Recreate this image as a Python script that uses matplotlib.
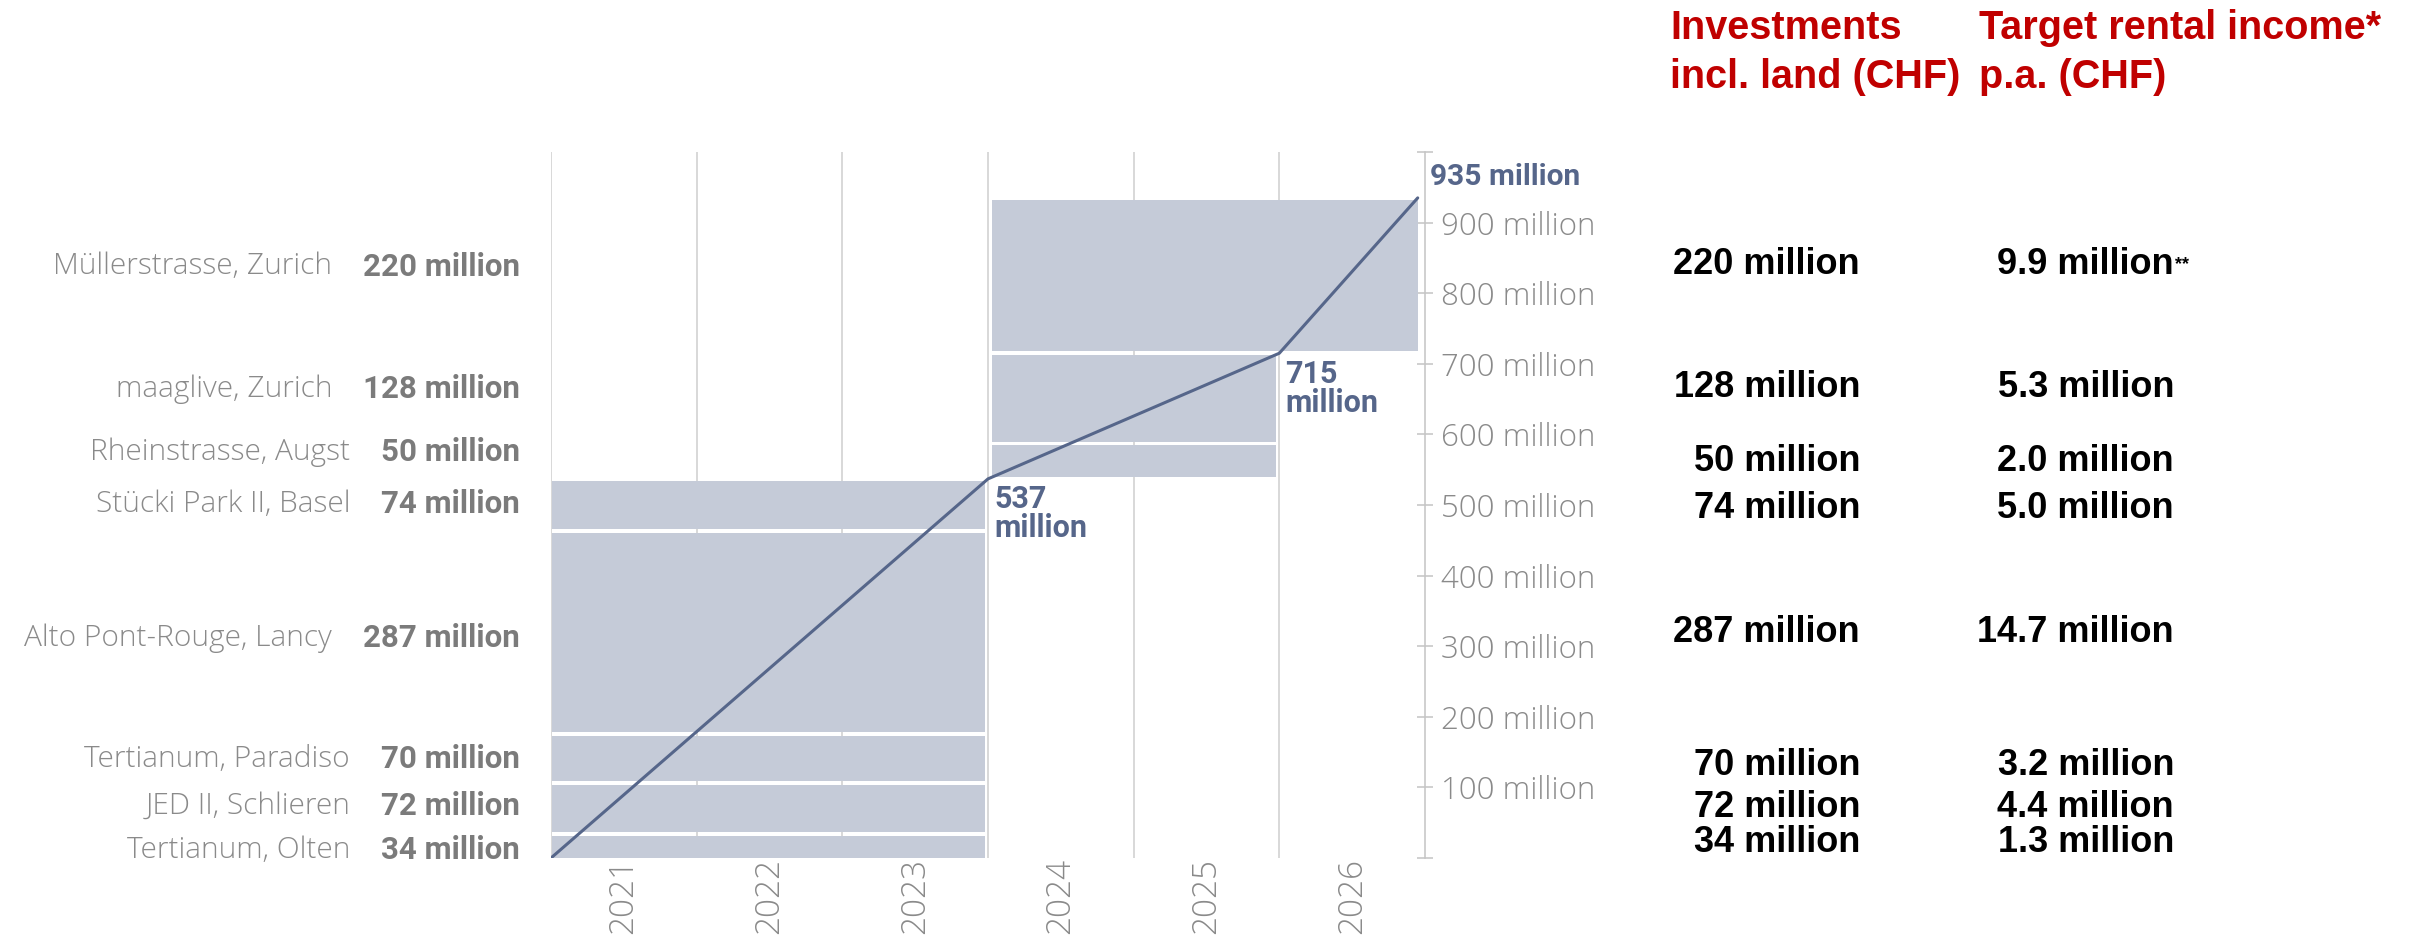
import matplotlib.pyplot as plt
import numpy as np
from matplotlib.transforms import blended_transform_factory

# projects, bottom of the stack first
projects = [
    "Tertianum, Olten",
    "JED II, Schlieren",
    "Tertianum, Paradiso",
    "Alto Pont-Rouge, Lancy",
    "Stücki Park II, Basel",
    "Rheinstrasse, Augst",
    "maaglive, Zurich",
    "Müllerstrasse, Zurich",
]
invest = [34, 72, 70, 287, 74, 50, 128, 220]          # CHF million, incl. land
rent = [1.3, 4.4, 3.2, 14.7, 5.0, 2.0, 5.3, 9.9]      # target rental income p.a., CHF million
rent_note = ["", "", "", "", "", "", "", "**"]
start_year = [2021, 2021, 2021, 2021, 2021, 2024, 2024, 2024]
end_year = [2023, 2023, 2023, 2023, 2023, 2025, 2025, 2026]
years = [2021, 2022, 2023, 2024, 2025, 2026]
axis_ticks = [0, 100, 200, 300, 400, 500, 600, 700, 800, 900, 1000]

# small hand nudges of the label rows (pixels, + = down), as in the original layout
left_nudge = [4, -3, 1, 6, -1, -9, -9, -9]
table_nudge = [-3, -1, 7, 0, 4, 0, -11, -11]

RECT = "#c5cbd8"
LINE = "#56668a"
GRID = "#d2d2d2"
GREY = "#8a8a8a"
VAL_GREY = "#7b7b7b"
RED = "#c00000"
LIGHT_FONT = "Open Sans"

W, H = 2409, 947
PX_PER_M = 706 / 1000

invest = np.array(invest)
top = np.cumsum(invest)
bottom = top - invest

fig = plt.figure(figsize=(W / 100, H / 100), dpi=100)
ax = fig.add_axes([551 / W, 89 / H, 874 / W, 706 / H])
x_lo, x_hi = years[0] - 0.5, years[-1] + 0.5
ax.set_xlim(x_lo, x_hi)
ax.set_ylim(0, 1000)

# year grid behind the blocks
ax.vlines([y - 0.5 for y in years], 0, 1000, color=GRID, lw=1.2, zorder=1)

# one block per project, spanning its construction period
gap = 2.5
for b, t, s, e in zip(bottom, top, start_year, end_year):
    x0 = s - 0.5 + (0.01 if s == years[0] else 0.03)
    x1 = min(e + 0.5 - 0.02, x_hi - 0.05)
    lo = b + gap if b > 0 else b
    ax.bar(x0, t - gap - lo, width=x1 - x0, bottom=lo, align="edge",
           color=RECT, linewidth=0, zorder=2)

# cumulative investment line
done = sorted(set(end_year))
line_x = [x_lo] + [min(e + 0.5, x_hi - 0.05) for e in done]
line_y = [0] + [int(invest[np.array(end_year) <= e].sum()) for e in done]
ax.plot(line_x, line_y, color=LINE, lw=2.2, zorder=3, solid_capstyle="round")

for i, (lx, ly) in enumerate(zip(line_x[1:], line_y[1:])):
    if i < len(done) - 1:
        ax.annotate(f"{ly}\nmillion", xy=(lx, ly), xytext=(4.5, -4),
                    textcoords="offset points", ha="left", va="top",
                    fontsize=22, fontweight="bold", color=LINE,
                    family="Roboto", linespacing=0.95, zorder=4)
    else:
        ax.annotate(f"{ly} million", xy=(lx, ly), xytext=(9, 9.5),
                    textcoords="offset points", ha="left", va="baseline",
                    fontsize=21.5, fontweight="bold", color=LINE,
                    family="Roboto", zorder=4)

# axes styling
for side in ["top", "left", "bottom"]:
    ax.spines[side].set_visible(False)
ax.spines["right"].set_color("#c4c4c4")
ax.spines["right"].set_linewidth(1.1)
ax.yaxis.tick_right()
ax.set_yticks(axis_ticks)
ax.set_yticklabels(["" if v in (0, 1000) else f"{v} million" for v in axis_ticks],
                   family=LIGHT_FONT, fontweight="light")
ax.tick_params(axis="y", direction="inout", length=11.5, width=1.1,
               color="#c4c4c4", labelsize=22.5, labelcolor=GREY, pad=6)
ax.set_xticks(years)
ax.set_xticklabels([str(y) for y in years], rotation=90,
                   family=LIGHT_FONT, fontweight="light")
ax.tick_params(axis="x", length=0, labelsize=24, labelcolor=GREY, pad=0)

# project labels on the left
mid = bottom + invest / 2
trans = blended_transform_factory(fig.transFigure, ax.transData)
vals = []
for m, v, n in zip(mid, invest, left_nudge):
    vals.append(fig.text(520 / W, m - n / PX_PER_M, f"{v} million", transform=trans,
                         ha="right", va="center", fontsize=22.5,
                         fontweight="bold", color=VAL_GREY, family="Roboto"))
fig.canvas.draw()
rend = fig.canvas.get_renderer()
for t, name, m, n in zip(vals, projects, mid, left_nudge):
    bb = t.get_window_extent(rend)
    fig.text((bb.x0 - 31) / W, m - n / PX_PER_M, name, transform=trans, ha="right",
             va="center", fontsize=21.5, fontweight="light", color=GREY,
             family=LIGHT_FONT)

# table on the right
head = dict(fontsize=28.5, fontweight="bold", color=RED, family="Liberation Sans",
            va="baseline", ha="left")
fig.text(1670 / W, 1 - 39 / H, "Investments", **head)
fig.text(1670 / W, 1 - 88 / H, "incl. land (CHF)", **head)
fig.text(1979 / W, 1 - 39 / H, "Target rental income*", **head)
fig.text(1979 / W, 1 - 88 / H, "p.a. (CHF)", **head)

cell = dict(fontsize=26, fontweight="bold", color="black", family="Liberation Sans",
            va="center", ha="right")
rent_txt = []
for m, v, r, n in zip(mid, invest, rent, table_nudge):
    yy = m - n / PX_PER_M
    fig.text(1860 / W, yy, f"{v} million", transform=trans, **cell)
    rent_txt.append(fig.text(2174 / W, yy, f"{r:.1f} million", transform=trans, **cell))
fig.canvas.draw()
rend = fig.canvas.get_renderer()
for t, note in zip(rent_txt, rent_note):
    if note:
        bb = t.get_window_extent(rend)
        fig.text((bb.x1 + 1) / W, (bb.y0 + bb.y1) / 2 / H, note, ha="left",
                 va="center", fontsize=13, fontweight="bold", color="black",
                 family="Liberation Sans")

fig.savefig("out.png", dpi=100, facecolor="white")
